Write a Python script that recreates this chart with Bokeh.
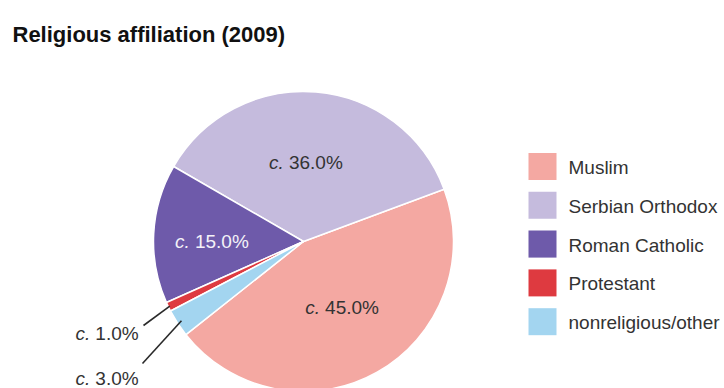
import math
from bokeh.plotting import figure
from bokeh.models import Range1d
from bokeh.core.properties import value
from bokeh.embed import file_html
from bokeh.resources import INLINE

# ---------------- data ----------------
title_text = "Religious affiliation (2009)"
categories = ["Muslim", "Serbian Orthodox", "Roman Catholic", "Protestant", "nonreligious/other"]
shares = [45.0, 36.0, 15.0, 1.0, 3.0]
prefix = "c."
colors = ["#F4A8A2", "#C5BBDD", "#6E5AAA", "#DE3A40", "#A3D5F0"]

# ---------------- style ----------------
W, H = 724, 388
CX, CY, R = 303, 241, 150
START_DEG = 218.4
FONT = "Liberation Sans"
FS = 19
TXT = "#333333"


def Y(py):
    return H - py


EM = {"0": .556, "1": .556, "2": .556, "3": .556, "4": .556, "5": .556, "6": .556,
      "7": .556, "8": .556, "9": .556, ".": .278, "%": .889}


def tw(s, fs=FS):
    return sum(EM.get(c, .556) for c in s) * fs


p = figure(width=W, height=H, x_range=Range1d(0, W), y_range=Range1d(0, H),
           output_backend="svg", toolbar_location=None, min_border=0,
           x_axis_type=None, y_axis_type=None)
p.grid.visible = False
p.outline_line_color = None
p.background_fill_color = "white"
p.border_fill_color = "white"

# ---------------- pie ----------------
total = sum(shares)
starts, ends = [], []
a = math.radians(START_DEG)
for s in shares:
    starts.append(a)
    a += 2 * math.pi * s / total
    ends.append(a)
mids = [(s + e) / 2 for s, e in zip(starts, ends)]

p.wedge(x=CX, y=Y(CY), radius=R, start_angle=starts, end_angle=ends,
        fill_color=colors, line_color="white", line_width=1.5)

labels = [f"{v:.1f}%" for v in shares]


def put_label(x0, yc, num, color):
    # "c." italic followed by number, starting at x0 (pixel coords)
    p.text(x=[x0], y=[Y(yc)], text=[prefix], text_font=value(FONT), text_font_size=f"{FS}px",
           text_font_style="italic", text_color=color, text_align="left", text_baseline="middle")
    p.text(x=[x0 + 0.99 * FS * 1.056], y=[Y(yc)], text=[num], text_font=value(FONT),
           text_font_size=f"{FS}px", text_color=color, text_align="left", text_baseline="middle")


# inside labels
inner_r = [0.51, 0.53, 0.61]
inner_nudge = [1.0, 3.0, 3.0]
inner_col = [TXT, TXT, "#F4F2F8"]
for i in range(3):
    ang = mids[i] + math.radians(inner_nudge[i])
    cx = CX + inner_r[i] * R * math.cos(ang)
    cy = CY - inner_r[i] * R * math.sin(ang)
    wtot = 1.056 * FS + tw(labels[i])
    put_label(cx - wtot / 2, cy, labels[i], inner_col[i])

# callout labels (Protestant, nonreligious/other)
call_text = [(75, 333), (75, 378)]
call_line_start = [(143, 325), (142, 363)]
call_r = [0.99, 0.97]
for k, i in enumerate([3, 4]):
    ex = CX + call_r[k] * R * math.cos(mids[i])
    ey = CY - call_r[k] * R * math.sin(mids[i])
    sx, sy = call_line_start[k]
    p.segment(x0=[sx], y0=[Y(sy)], x1=[ex], y1=[Y(ey)], line_color="#2A2A2A", line_width=1.6)
    put_label(call_text[k][0], call_text[k][1], labels[i], TXT)

# ---------------- legend ----------------
LX, LY0, LSTEP = 542, 166, 38.8
for i, cat in enumerate(categories):
    yc = LY0 + i * LSTEP
    p.rect(x=[LX], y=[Y(yc)], width=28, height=27, fill_color=colors[i], line_color=None)
    p.text(x=[568], y=[Y(yc + 1)], text=[cat], text_font=value(FONT), text_font_size=f"{FS}px",
           text_color=TXT, text_align="left", text_baseline="middle")

# ---------------- title ----------------
p.text(x=[12], y=[Y(34)], text=[title_text], text_font=value(FONT), text_font_size="22px",
       text_font_style="bold", text_color="#111111", text_align="left", text_baseline="alphabetic")

open("out.html", "w").write(file_html(p, INLINE))
